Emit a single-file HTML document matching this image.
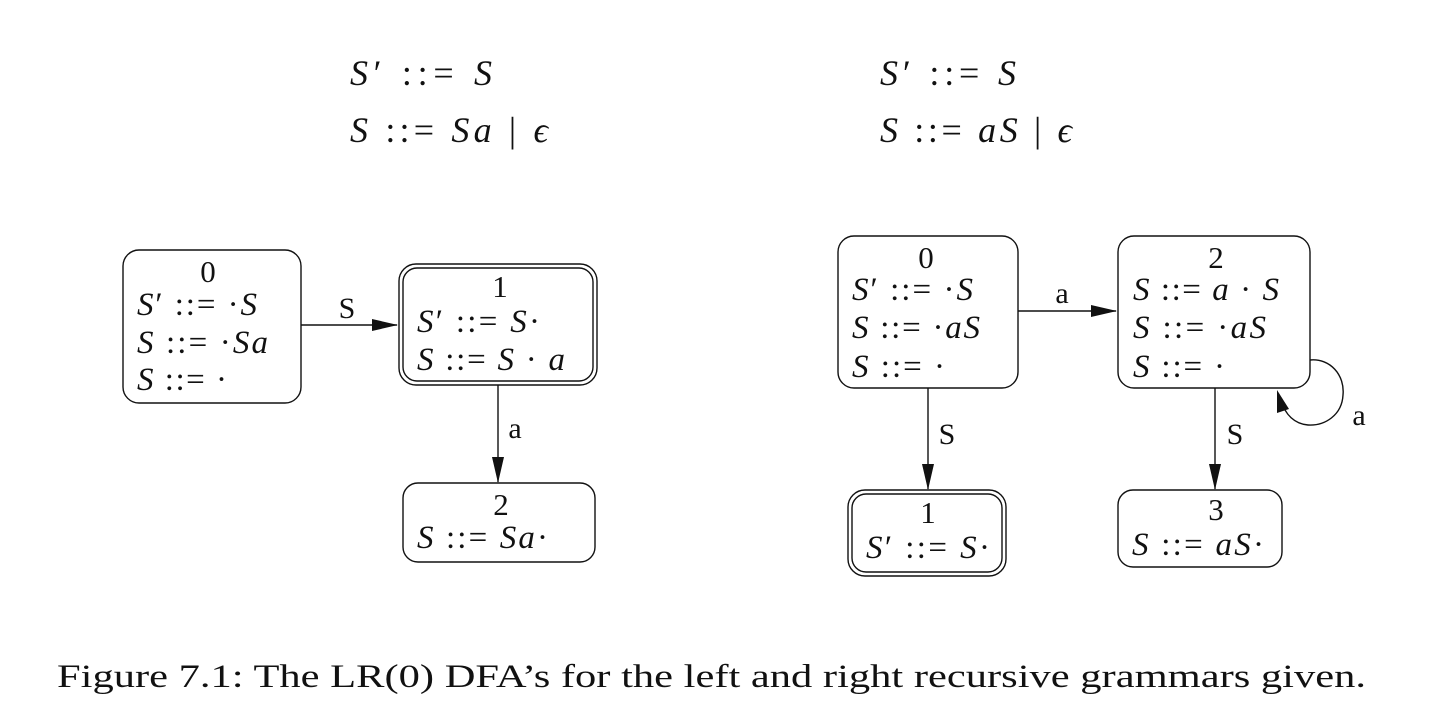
<!DOCTYPE html>
<html><head><meta charset="utf-8"><style>
html,body{margin:0;padding:0;background:#fff;}
svg{display:block;}
text{font-family:"Liberation Serif",serif;fill:#111;}
.m{font-size:33px;}
.n{font-size:31px;}
.i{font-style:italic;}
.t{font-size:36px;}
.l{font-size:30px;}
</style></head><body>
<svg width="1444" height="714" viewBox="0 0 1444 714" xmlns="http://www.w3.org/2000/svg">
<defs>
<marker id="ahv" markerWidth="26" markerHeight="12" refX="25" refY="6" orient="auto" markerUnits="userSpaceOnUse" viewBox="0 0 26 12">
<path d="M0,0 L26,6 L0,12 z" fill="#111"/>
</marker>
</defs>
<g stroke="#111" stroke-width="1.4" fill="none">
<rect x="123" y="250" width="178" height="153" rx="16"/>
<rect x="399" y="264" width="198" height="121" rx="17"/>
<rect x="403" y="268" width="190" height="113" rx="14"/>
<rect x="403" y="483" width="192" height="79" rx="15"/>
<line x1="301" y1="325" x2="397" y2="325" marker-end="url(#ahv)"/>
<line x1="498" y1="385" x2="498" y2="482" marker-end="url(#ahv)"/>
<rect x="838" y="236" width="180" height="152" rx="16"/>
<rect x="1118" y="236" width="192" height="152" rx="16"/>
<rect x="848" y="490" width="158" height="86" rx="17"/>
<rect x="852" y="494" width="150" height="78" rx="14"/>
<rect x="1118" y="490" width="164" height="77" rx="15"/>
<line x1="1018" y1="311" x2="1116" y2="311" marker-end="url(#ahv)"/>
<line x1="928" y1="388" x2="928" y2="489" marker-end="url(#ahv)"/>
<line x1="1215" y1="388" x2="1215" y2="489" marker-end="url(#ahv)"/>
<path d="M1310,360 C1330,358 1345,375 1343,395 C1342,415 1325,426 1308,425 C1295,424 1285,415 1281,400"/>
</g>
<path d="M1277,390 L1289,409 L1277,413 z" fill="#111"/>

<text class="t" x="350" y="85" textLength="142" lengthAdjust="spacing"><tspan class="i">S</tspan>′ ::= <tspan class="i">S</tspan></text>
<text class="t" x="350" y="142" textLength="198" lengthAdjust="spacing"><tspan class="i">S</tspan> ::= <tspan class="i">Sa</tspan> | <tspan class="i">ϵ</tspan></text>
<text class="t" x="880" y="85" textLength="136" lengthAdjust="spacing"><tspan class="i">S</tspan>′ ::= <tspan class="i">S</tspan></text>
<text class="t" x="880" y="142" textLength="192" lengthAdjust="spacing"><tspan class="i">S</tspan> ::= <tspan class="i">aS</tspan> | <tspan class="i">ϵ</tspan></text>

<text class="n" x="208" y="282" text-anchor="middle">0</text>
<text class="m" x="137" y="315" textLength="120" lengthAdjust="spacing"><tspan class="i">S</tspan>′ ::= ·<tspan class="i">S</tspan></text>
<text class="m" x="137" y="353" textLength="131" lengthAdjust="spacing"><tspan class="i">S</tspan> ::= ·<tspan class="i">Sa</tspan></text>
<text class="m" x="137" y="390" textLength="90" lengthAdjust="spacing"><tspan class="i">S</tspan> ::= ·</text>
<text class="n" x="500" y="297" text-anchor="middle">1</text>
<text class="m" x="417" y="332" textLength="123" lengthAdjust="spacing"><tspan class="i">S</tspan>′ ::= <tspan class="i">S</tspan>·</text>
<text class="m" x="417" y="370" textLength="148" lengthAdjust="spacing"><tspan class="i">S</tspan> ::= <tspan class="i">S</tspan> · <tspan class="i">a</tspan></text>
<text class="n" x="501" y="515" text-anchor="middle">2</text>
<text class="m" x="417" y="548" textLength="131" lengthAdjust="spacing"><tspan class="i">S</tspan> ::= <tspan class="i">Sa</tspan>·</text>
<text class="l" x="347" y="318" text-anchor="middle">S</text>
<text class="l" x="515" y="438" text-anchor="middle">a</text>

<text class="n" x="926" y="268" text-anchor="middle">0</text>
<text class="m" x="852" y="300" textLength="121" lengthAdjust="spacing"><tspan class="i">S</tspan>′ ::= ·<tspan class="i">S</tspan></text>
<text class="m" x="852" y="338" textLength="128" lengthAdjust="spacing"><tspan class="i">S</tspan> ::= ·<tspan class="i">aS</tspan></text>
<text class="m" x="852" y="377" textLength="93" lengthAdjust="spacing"><tspan class="i">S</tspan> ::= ·</text>
<text class="n" x="1216" y="268" text-anchor="middle">2</text>
<text class="m" x="1133" y="300" textLength="146" lengthAdjust="spacing"><tspan class="i">S</tspan> ::= <tspan class="i">a</tspan> · <tspan class="i">S</tspan></text>
<text class="m" x="1133" y="338" textLength="133" lengthAdjust="spacing"><tspan class="i">S</tspan> ::= ·<tspan class="i">aS</tspan></text>
<text class="m" x="1133" y="377" textLength="92" lengthAdjust="spacing"><tspan class="i">S</tspan> ::= ·</text>
<text class="n" x="928" y="523" text-anchor="middle">1</text>
<text class="m" x="866" y="558" textLength="124" lengthAdjust="spacing"><tspan class="i">S</tspan>′ ::= <tspan class="i">S</tspan>·</text>
<text class="n" x="1216" y="520" text-anchor="middle">3</text>
<text class="m" x="1132" y="555" textLength="132" lengthAdjust="spacing"><tspan class="i">S</tspan> ::= <tspan class="i">aS</tspan>·</text>
<text class="l" x="1062" y="303" text-anchor="middle">a</text>
<text class="l" x="947" y="444" text-anchor="middle">S</text>
<text class="l" x="1235" y="444" text-anchor="middle">S</text>
<text class="l" x="1359" y="425" text-anchor="middle">a</text>

<text x="57" y="687" font-size="33" textLength="1309" lengthAdjust="spacingAndGlyphs">Figure 7.1: The LR(0) DFA’s for the left and right recursive grammars given.</text>
</svg>
</body></html>
